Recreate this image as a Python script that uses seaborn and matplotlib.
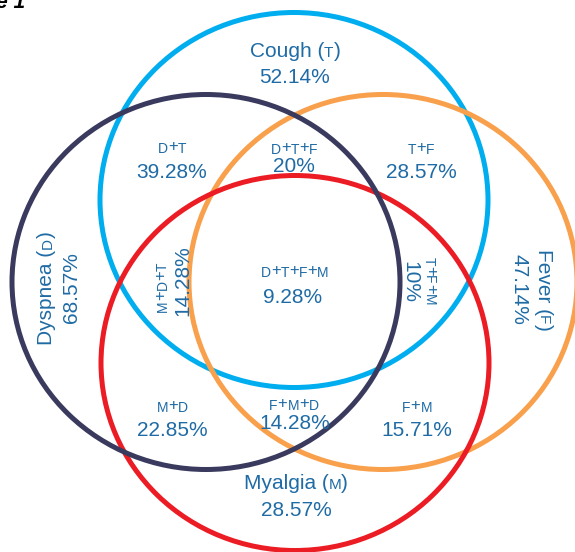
import matplotlib
matplotlib.use("Agg")
import matplotlib.pyplot as plt
from matplotlib.patches import Ellipse
from matplotlib.transforms import Bbox
import seaborn as sns

# ---------------- data ----------------
set_names = ["Cough", "Dyspnea", "Fever", "Myalgia"]
set_codes = ["T", "D", "F", "M"]
set_pcts = [52.14, 68.57, 47.14, 28.57]

combo_labels = ["D+T", "D+T+F", "T+F", "M+D+T", "D+T+F+M",
                "T+F+M", "M+D", "F+M+D", "F+M"]
combo_pcts = [39.28, 20, 28.57, 14.28, 9.28, 10, 22.85, 14.28, 15.71]

# ---------------- style ----------------
sns.set_theme(style="white")
plt.rcParams['font.family'] = ['Liberation Sans', 'DejaVu Sans']

set_colors = {"Cough": "#00AEEF", "Dyspnea": "#3A3A5E",
              "Fever": "#F8A04C", "Myalgia": "#EC1C24"}
TXT = "#1F6BA5"

# layout (pixel-like coordinates)
circle_centers = {"Cough": (294, 200), "Dyspnea": (206, 282),
                  "Fever": (383, 282), "Myalgia": (295, 363)}
CW, CH = 388, 375
draw_order = ["Cough", "Fever", "Myalgia", "Dyspnea"]

set_label_pos = {  # (name centre, value centre, rotation)
    "Cough": ((295, 49), (295, 75), 0),
    "Dyspnea": ((44, 288), (69, 288), 90),
    "Fever": ((546, 290), (521, 289), -90),
    "Myalgia": ((296, 481), (296, 508), 0),
}
combo_pos = {  # (label centre, value centre, rotation)
    "D+T": ((172, 146), (172, 170), 0),
    "D+T+F": ((294, 147), (294, 164), 0),
    "T+F": ((421, 147), (421, 170), 0),
    "M+D+T": ((160, 287), (181, 281), 90),
    "D+T+F+M": ((295, 270), (293, 295), 0),
    "T+F+M": ((432, 281), (412, 282), -90),
    "M+D": ((172, 405), (172, 428), 0),
    "F+M+D": ((294, 403), (295, 421), 0),
    "F+M": ((417, 405), (417, 428), 0),
}

W, H = 575, 552
fig = plt.figure(figsize=(W / 100, H / 100), dpi=100)
ax = fig.add_axes([0, 0, 1, 1])
ax.set_xlim(0, W)
ax.set_ylim(H, 0)
ax.axis("off")

for name in draw_order:
    e = Ellipse(circle_centers[name], CW, CH, fill=False,
                edgecolor=set_colors[name], linewidth=3.6)
    ax.add_patch(e)

groups = []


def make_group(target, pieces, rot):
    """pieces: list of (text, size_pt, raise_pt)."""
    texts = []
    prev_raise = 0.0
    for i, (s, size, rz) in enumerate(pieces):
        if i == 0:
            t = ax.text(0, 0, s, fontsize=size, color=TXT, rotation=rot,
                        ha="left", va="baseline")
        else:
            d = rz - prev_raise
            if rot == 0:
                kw = dict(xy=(1, 0), ha="left", va="bottom", xytext=(0, d))
            elif rot == 90:
                kw = dict(xy=(1, 1), ha="right", va="bottom", xytext=(-d, 0))
            else:
                kw = dict(xy=(0, 0), ha="left", va="top", xytext=(d, 0))
            t = ax.annotate(s, xycoords=texts[-1], textcoords="offset points",
                            fontsize=size, color=TXT, rotation=rot,
                            annotation_clip=False, **kw)
        prev_raise = rz
        texts.append(t)
    em = max(p[1] for p in pieces)
    groups.append(dict(texts=texts, target=target, rot=rot, em=em))


SC, PL, PR = 10, 12, 1.3
BIG, SMALL, SR = 15, 11, 0.85


def combo_pieces(label):
    out = []
    for ch in label:
        if ch == "+":
            out.append(("+", PL, PR))
        else:
            out.append((ch, SC, 0.0))
    return out


for name, code, pct in zip(set_names, set_codes, set_pcts):
    npos, vpos, rot = set_label_pos[name]
    make_group(npos, [(name + " (", BIG, 0.0), (code, SMALL, SR),
                      (")", BIG, 0.0)], rot)
    make_group(vpos, [(f"{pct:g}%", BIG, 0.0)], rot)

for lab, pct in zip(combo_labels, combo_pcts):
    lpos, vpos, rot = combo_pos[lab]
    make_group(lpos, combo_pieces(lab), rot)
    make_group(vpos, [(f"{pct:g}%", BIG, 0.0)], rot)

# partially visible figure caption at top-left (cut off, as in the reference)
ax.text(25, 8, "Figure 1", fontsize=15, weight="bold", style="italic",
        color="black", ha="right", va="baseline")

# centre every group on its target
fig.canvas.draw()
r = fig.canvas.get_renderer()
for g in groups:
    bbs = [t.get_window_extent(r) for t in g["texts"]]
    u = Bbox.union(bbs)
    cx, cy = (u.x0 + u.x1) / 2, (u.y0 + u.y1) / 2
    tx, ty = ax.transData.transform(g["target"])
    corr = 0.105 * g["em"] * fig.dpi / 72
    if g["rot"] == 0:
        ty -= corr
    elif g["rot"] == 90:
        tx += corr
    else:
        tx -= corr
    first = g["texts"][0]
    fx, fy = ax.transData.transform(first.get_position())
    first.set_position(ax.transData.inverted().transform((fx + tx - cx,
                                                          fy + ty - cy)))

fig.savefig("out.png", dpi=100)
